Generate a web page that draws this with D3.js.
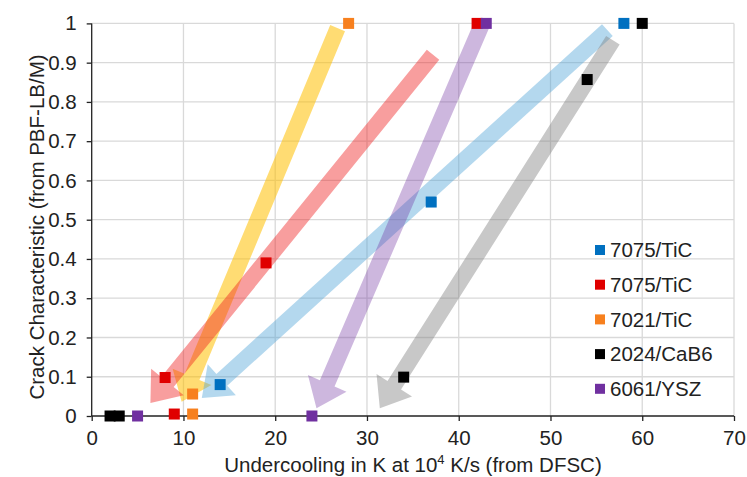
<!DOCTYPE html>
<html><head><meta charset="utf-8">
<script src="https://cdn.jsdelivr.net/npm/d3@7"></script>
<style>body{margin:0;background:#fff}svg{display:block}text{font-family:Arial,"Liberation Sans",sans-serif;fill:#222}</style>
</head><body><svg id="c" width="747" height="477"></svg>
<script>
const xTicks=[0,10,20,30,40,50,60,70];
const yTicks=[0,0.1,0.2,0.3,0.4,0.5,0.6,0.7,0.8,0.9,1];
const seriesNames=["7075/TiC","7075/TiC","7021/TiC","2024/CaB6","6061/YSZ"];
const seriesColors=["#0070C0","#E00000","#F7801E","#000000","#7030A0"];
const s1=[[14,0.08],[37,0.545],[58,1.0]];
const s2=[[8,0.098],[9,0.005],[19,0.39],[42,1.0]];
const s3=[[11,0.056],[11,0.005],[28,1.0]];
const s4=[[2,0],[3,0],[34,0.099],[54,0.857],[60,1.0]];
const s5=[[5,0],[24,0],[43,1.0]];
const seriesData=[s1,s2,s3,s4,s5];
// arrows: [tailX,tailY,tipX,tipY]
const arrowYellow=[26.8,0.988,9.8,0.036];
const arrowRed=[37.2,0.92,6.4,0.033];
const arrowBlue=[56.2,0.983,12.0,0.046];
const arrowPurple=[42.5,0.996,24.5,0.02];
const arrowGray=[56.8,0.957,31.4,0.02];
const arrows=[arrowYellow,arrowRed,arrowBlue,arrowPurple,arrowGray];
const arrowColors=["rgba(255,192,0,0.55)","rgba(238,30,30,0.43)","rgba(80,165,215,0.43)","rgba(112,48,160,0.35)","rgba(128,128,128,0.43)"];

const svg=d3.select("#c");
const x=d3.scaleLinear().domain([0,70]).range([91.7,734]);
const y=d3.scaleLinear().domain([0,1]).range([416,23.4]);

// grid
svg.append("g").selectAll("line").data(xTicks.slice(1)).join("line")
 .attr("x1",d=>x(d)).attr("x2",d=>x(d)).attr("y1",y(0)).attr("y2",y(1))
 .attr("stroke","#D9D9D9").attr("stroke-width",1.3);
svg.append("g").selectAll("line").data(yTicks.slice(1)).join("line")
 .attr("y1",d=>y(d)).attr("y2",d=>y(d)).attr("x1",x(0)).attr("x2",x(70))
 .attr("stroke","#D9D9D9").attr("stroke-width",1.3);

// arrows
function arrowPath(a){
 const T=[x(a[0]),y(a[1])],P=[x(a[2]),y(a[3])];
 const dx=P[0]-T[0],dy=P[1]-T[1],L=Math.hypot(dx,dy);
 const u=[dx/L,dy/L],n=[-u[1],u[0]];
 const w=8,hw=21,hl=27;
 const B=[P[0]-u[0]*hl,P[1]-u[1]*hl];
 const pts=[[T[0]+n[0]*w,T[1]+n[1]*w],[B[0]+n[0]*w,B[1]+n[1]*w],[B[0]+n[0]*hw,B[1]+n[1]*hw],P,
  [B[0]-n[0]*hw,B[1]-n[1]*hw],[B[0]-n[0]*w,B[1]-n[1]*w],[T[0]-n[0]*w,T[1]-n[1]*w]];
 return "M"+pts.map(p=>p.join(",")).join("L")+"Z";
}
svg.append("g").selectAll("path").data(arrows).join("path")
 .attr("d",arrowPath).attr("fill",(d,i)=>arrowColors[i]);

// axes
const gx=svg.append("g").attr("transform",`translate(0,${y(0)})`)
 .call(d3.axisBottom(x).tickValues(xTicks).tickSize(5).tickPadding(9));
const gy=svg.append("g").attr("transform",`translate(${x(0)},0)`)
 .call(d3.axisLeft(y).tickValues(yTicks).tickSize(5).tickPadding(10).tickFormat(d=>d===0?"0":d===1?"1":d3.format(".1f")(d)));
[gx,gy].forEach(g=>{g.select(".domain").attr("stroke","#222").attr("stroke-width",1.3);
 g.selectAll(".tick line").attr("stroke","#222").attr("stroke-width",1.3);
 g.selectAll("text").attr("font-size",20.5).attr("fill","#222").style("font-family","Arial,'Liberation Sans',sans-serif");});
gx.select(".domain").attr("d",`M${x(0)},0H${x(70)}`);
gy.select(".domain").attr("d",`M0,${y(0)}V${y(1)}`);

// points
seriesData.forEach((s,i)=>{
 svg.append("g").selectAll("rect").data(s).join("rect")
  .attr("x",d=>x(d[0])-5.5).attr("y",d=>y(d[1])-5.5).attr("width",11).attr("height",11)
  .attr("fill",seriesColors[i]);
});

// legend
const lg=svg.append("g");
seriesNames.forEach((nm,i)=>{
 const cy=250+i*34.7;
 lg.append("rect").attr("x",595).attr("y",cy-5).attr("width",10).attr("height",10).attr("fill",seriesColors[i]);
 lg.append("text").attr("x",610).attr("y",cy).attr("dy","0.35em").attr("font-size",20.5).text(nm);
});

// titles
const xt=svg.append("text").attr("x",413).attr("y",472).attr("text-anchor","middle").attr("font-size",20.5);
xt.append("tspan").text("Undercooling in K at 10");
xt.append("tspan").attr("font-size",13).attr("dy",-8).text("4");
xt.append("tspan").attr("dy",8).text(" K/s (from DFSC)");
svg.append("text").attr("transform","translate(44,227) rotate(-90)").attr("text-anchor","middle").attr("font-size",20.5)
 .text("Crack Characteristic (from PBF-LB/M)");
</script></body></html>
